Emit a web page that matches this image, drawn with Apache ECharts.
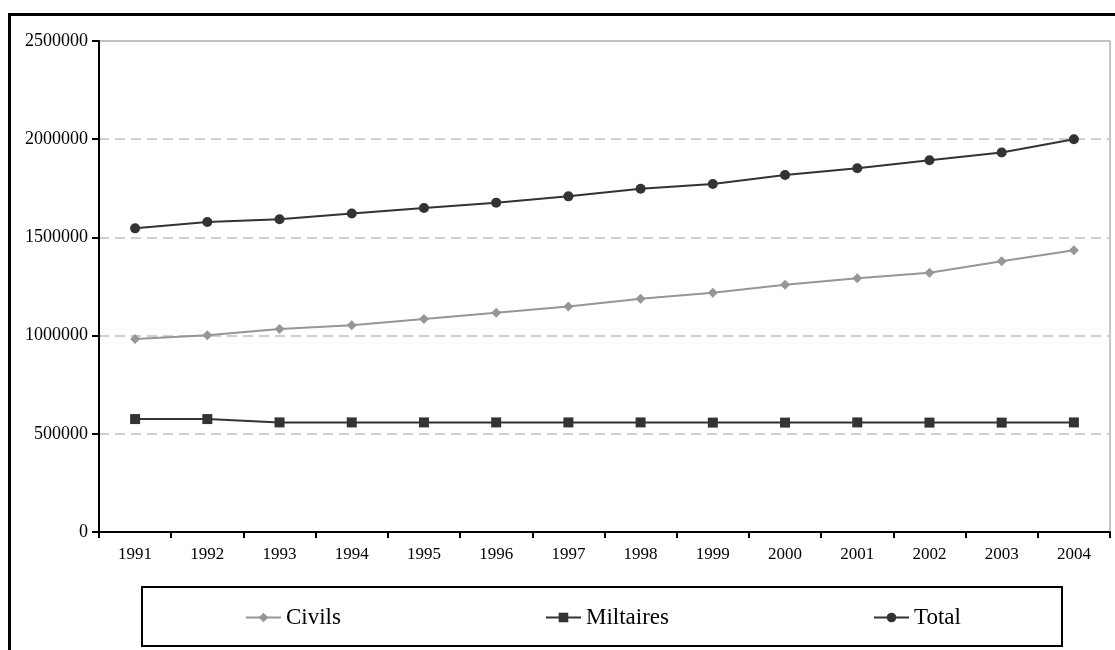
<!DOCTYPE html>
<html>
<head>
<meta charset="utf-8">
<script src="https://cdn.jsdelivr.net/npm/echarts@6/dist/echarts.min.js"></script>
<style>html,body{margin:0;padding:0;background:#fff}#c{width:1115px;height:650px}</style>
</head>
<body>
<div id="c"></div>
<script>
const years = ['1991','1992','1993','1994','1995','1996','1997','1998','1999','2000','2001','2002','2003','2004'];
const civils = [983000,1002000,1034000,1053000,1085000,1116000,1148000,1188000,1218000,1259000,1292000,1320000,1378000,1435000];
const militaires = [575000,575000,558000,558000,558000,558000,558000,558000,557000,557000,558000,557000,557000,558000];
const total = [1546000,1578000,1592000,1622000,1650000,1677000,1709000,1748000,1772000,1818000,1852000,1893000,1932000,2000000];
const yTicks = {min:0, max:2500000, interval:500000};

const serif = '"Liberation Serif", "DejaVu Serif", serif';
const chart = echarts.init(document.getElementById('c'));
chart.setOption({
  animation:false,
  backgroundColor:'#fff',
  graphic:[
    {type:'rect', shape:{x:9.5,y:14.5,width:1300,height:800}, style:{fill:'none',stroke:'#000',lineWidth:3}, z:-1},
    {type:'rect', shape:{x:142,y:587,width:920,height:59}, style:{fill:'#fff',stroke:'#000',lineWidth:2}, z:0}
  ],
  grid:{left:99, right:5, top:41, bottom:118, show:true, borderColor:'#8c8c8c', borderWidth:1, backgroundColor:'transparent'},
  legend:{
    left:240, top:601, itemGap:204, itemWidth:35, itemHeight:12,
    textStyle:{fontFamily:serif, fontSize:23, color:'#000'},
    data:['Civils','Miltaires','Total'], z:5
  },
  xAxis:{
    type:'category', data:years, boundaryGap:true,
    axisLine:{lineStyle:{color:'#000',width:2}},
    axisTick:{show:true, length:6, lineStyle:{color:'#000',width:2}},
    axisLabel:{fontFamily:serif, fontSize:17, color:'#000', margin:14},
    splitLine:{show:false}
  },
  yAxis:{
    type:'value', min:yTicks.min, max:yTicks.max, interval:yTicks.interval,
    axisLine:{show:true, lineStyle:{color:'#000',width:2}},
    axisTick:{show:true, length:7, lineStyle:{color:'#000',width:2}},
    axisLabel:{fontFamily:serif, fontSize:18, color:'#000', margin:11, padding:[0,0,8,0],
      formatter: v => String(v)},
    splitLine:{show:true, lineStyle:{color:'#c0c0c0', type:[10,6], width:1.5}}
  },
  series:[
    {name:'Civils', type:'line', data:civils, symbol:'diamond', symbolSize:10,
     lineStyle:{color:'#969696',width:2}, itemStyle:{color:'#969696'}},
    {name:'Miltaires', type:'line', data:militaires, symbol:'rect', symbolSize:10,
     lineStyle:{color:'#333',width:2}, itemStyle:{color:'#333'}},
    {name:'Total', type:'line', data:total, symbol:'circle', symbolSize:10,
     lineStyle:{color:'#333',width:2}, itemStyle:{color:'#333'}}
  ]
});
</script>
</body>
</html>
